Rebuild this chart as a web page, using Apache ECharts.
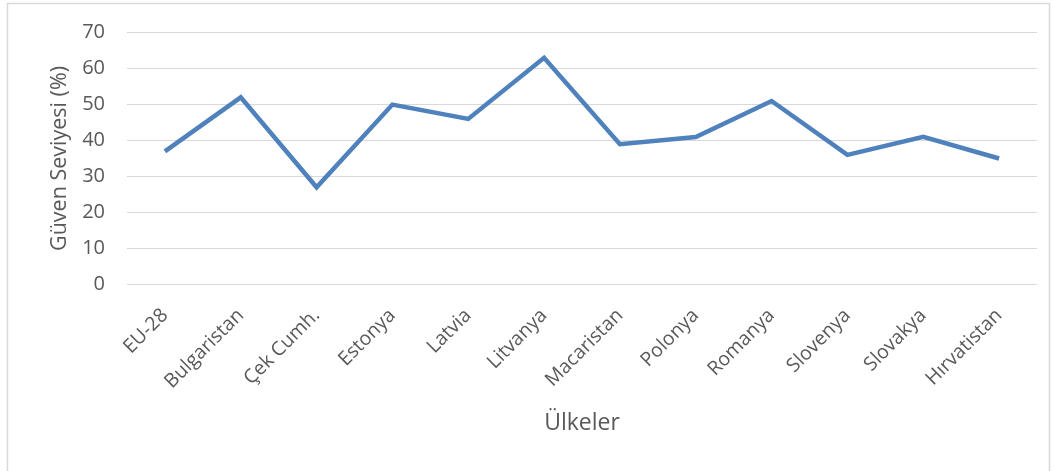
<!DOCTYPE html>
<html><head><meta charset="utf-8">
<script src="https://cdn.jsdelivr.net/npm/echarts@6/dist/echarts.min.js"></script>
<style>html,body{margin:0;padding:0;background:#fff}#c{width:1054px;height:471px}</style>
</head><body><div id="c"></div>
<script>
const categories = ["EU-28","Bulgaristan","Çek Cumh.","Estonya","Latvia","Litvanya","Macaristan","Polonya","Romanya","Slovenya","Slovakya","Hırvatistan"];
const values = [37,52,27,50,46,63,39,41,51,36,41,35];
const yTicks = {min:0, max:70, interval:10};

const chart = echarts.init(document.getElementById('c'), null, {renderer:'canvas'});
const font = "'Open Sans', 'Noto Sans', sans-serif";
chart.setOption({
  animation:false,
  graphic:[{type:'rect', shape:{x:7.5,y:3.5,width:1042,height:500}, style:{fill:'none', stroke:'#d9d9d9', lineWidth:1.5}, silent:true}],
  grid:{left:127, right:17, top:32.7, bottom:186.7, containLabel:false},
  xAxis:{type:'category', data:categories, boundaryGap:true,
    name:'Ülkeler', nameLocation:'middle', nameGap:128,
    nameTextStyle:{color:'#595959', fontSize:23, fontFamily:font},
    axisLine:{show:false}, axisTick:{show:false},
    axisLabel:{rotate:45, color:'#595959', fontSize:19.5, fontFamily:font, margin:28, interval:0}},
  yAxis:{type:'value', min:yTicks.min, max:yTicks.max, interval:yTicks.interval,
    name:'Güven Seviyesi (%)', nameLocation:'middle', nameGap:56,
    nameTextStyle:{color:'#595959', fontSize:21.5, fontFamily:font},
    axisLine:{show:false}, axisTick:{show:false},
    axisLabel:{color:'#595959', fontSize:20, fontFamily:font, margin:22},
    splitLine:{lineStyle:{color:'#d9d9d9', width:1.2}}},
  series:[{type:'line', data:values, symbol:'none', lineStyle:{color:'#4f81bd', width:4.5, join:'miter'}}]
});
</script></body></html>
